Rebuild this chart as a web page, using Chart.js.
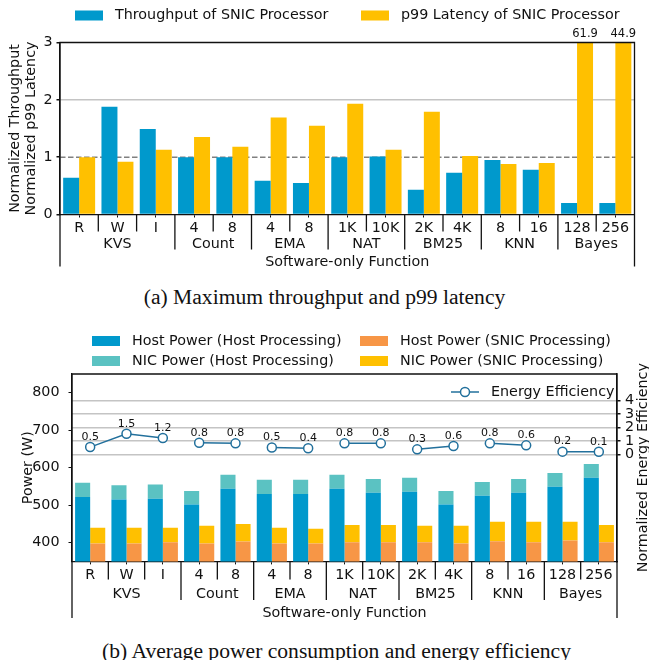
<!DOCTYPE html>
<html>
<head>
<meta charset="utf-8">
<script src="https://cdn.jsdelivr.net/npm/chart.js@4.4.0/dist/chart.umd.min.js"></script>
<style>
  body { margin: 0; background: #fff; width: 649px; height: 660px; position: relative; overflow: hidden; }
  canvas { position: absolute; left: 0; }
  #top { top: 0; }
  #bottom { top: 320px; }
  .cap { position: absolute; left: 0; width: 649px; text-align: center; color: #111;
         font-family: "Liberation Serif", "Times New Roman", serif; font-size: 21.6px; line-height: 24px; }
</style>
</head>
<body>
<canvas id="top" width="649" height="280"></canvas>
<div class="cap" style="top:285px">(a) Maximum throughput and p99 latency</div>
<canvas id="bottom" width="649" height="310"></canvas>
<div class="cap" style="top:639px;left:12px">(b) Average power consumption and energy efficiency</div>

<script>
// categories
const functions = ['KVS', 'Count', 'EMA', 'NAT', 'BM25', 'KNN', 'Bayes'];
const functionSizes = [3, 2, 2, 2, 2, 2, 2];
const variants = ['R', 'W', 'I', '4', '8', '4', '8', '1K', '10K', '2K', '4K', '8', '16', '128', '256'];

// (a) normalized to host processing
const throughputSnic = [0.64, 1.88, 1.49, 1.0, 1.0, 0.59, 0.55, 1.0, 1.01, 0.43, 0.73, 0.95, 0.78, 0.2, 0.2];
const latencySnic = [1.0, 0.92, 1.13, 1.35, 1.18, 1.69, 1.55, 1.93, 1.13, 1.79, 1.02, 0.88, 0.9, 61.9, 44.9];
const ratioTicks = [0, 1, 2, 3];

// (b) power in W
const hostPowerHost = [522, 515, 517, 502, 544, 530, 530, 544, 533, 536, 502, 525, 533, 549, 573];
const nicPowerHost = [38, 38, 38, 36, 37, 38, 38, 37, 37, 37, 36, 37, 37, 37, 37];
const hostPowerSnic = [398, 398, 401, 398, 403, 398, 398, 401, 401, 401, 398, 404, 401, 406, 401];
const nicPowerSnic = [42, 42, 39, 47, 47, 42, 39, 46, 46, 44, 47, 52, 55, 50, 46];
const energyEfficiency = [0.54, 1.54, 1.22, 0.87, 0.82, 0.51, 0.45, 0.82, 0.82, 0.37, 0.62, 0.82, 0.67, 0.2, 0.19];
const powerTicks = [400, 500, 600, 700, 800];
const efficiencyTicks = [0, 1, 2, 3, 4];

const INK = '#111';
const FONT = '14.3px "DejaVu Sans"';
Chart.defaults.font.family = '"DejaVu Sans", sans-serif';
Chart.defaults.font.size = 14.3;
Chart.defaults.color = INK;

// which function each variant belongs to
const groupOf = [];
functionSizes.forEach((n, g) => { for (let i = 0; i < n; i++) groupOf.push(g); });

const useTicks = list => s => { s.ticks = list.map(v => ({ value: v })); };

// frame + two-level category axis (variant / function / axis title)
const groupAxis = {
  id: 'groupAxis',
  afterDraw(chart, args, o) {
    const { ctx, chartArea: a, scales: { x } } = chart;
    const half = (x.getPixelForTick(1) - x.getPixelForTick(0)) / 2;
    const vline = (px, len) => {
      ctx.beginPath(); ctx.moveTo(px, a.bottom); ctx.lineTo(px, a.bottom + len); ctx.stroke();
    };
    ctx.save();
    ctx.strokeStyle = INK;
    ctx.lineWidth = 1.3;
    ctx.beginPath();
    ctx.moveTo(a.left, a.bottom + o.outer);
    ctx.lineTo(a.left, a.top);
    ctx.lineTo(a.right, a.top);
    ctx.lineTo(a.right, a.bottom + o.outer);
    ctx.stroke();
    ctx.font = FONT;
    ctx.fillStyle = INK;
    ctx.textAlign = 'center';
    ctx.textBaseline = 'middle';
    let start = 0;
    functions.forEach((name, g) => {
      const end = start + functionSizes[g];
      for (let i = start + 1; i < end; i++) vline(x.getPixelForTick(i) - half, o.sub);
      if (end < variants.length) vline(x.getPixelForTick(end) - half, o.group);
      const cx = (x.getPixelForTick(start) + x.getPixelForTick(end - 1)) / 2;
      ctx.fillText(name, cx, a.bottom + o.groupY);
      start = end;
    });
    ctx.fillText('Software-only Function', (a.left + a.right) / 2, a.bottom + o.titleY);
    ctx.restore();
  }
};

// matplotlib-like legend boxes at fixed spots
const boxLegend = {
  id: 'boxLegend',
  afterDraw(chart, args, o) {
    const ctx = chart.ctx;
    ctx.save();
    ctx.font = FONT;
    ctx.textBaseline = 'middle';
    ctx.textAlign = 'left';
    o.items.forEach(it => {
      const ds = chart.data.datasets[it.index];
      ctx.fillStyle = ds.backgroundColor;
      ctx.fillRect(it.x, it.y - 5, 28, 10);
      ctx.fillStyle = INK;
      ctx.fillText(ds.label, it.x + 40, it.y);
    });
    ctx.restore();
  }
};

// dashed reference line at 1 and value labels for clipped bars
const refLine = {
  id: 'refLine',
  beforeDatasetsDraw(chart) {
    const { ctx, chartArea: a, scales: { y } } = chart;
    const py = y.getPixelForValue(1);
    ctx.save();
    ctx.strokeStyle = '#808080';
    ctx.lineWidth = 1.5;
    ctx.setLineDash([5.5, 2.5]);
    ctx.beginPath(); ctx.moveTo(a.left, py); ctx.lineTo(a.right, py); ctx.stroke();
    ctx.restore();
  },
  afterDatasetsDraw(chart) {
    const { ctx, chartArea: a, scales: { y } } = chart;
    ctx.save();
    ctx.font = '11.5px "DejaVu Sans"';
    ctx.fillStyle = INK;
    ctx.textAlign = 'center';
    ctx.textBaseline = 'bottom';
    chart.getDatasetMeta(1).data.forEach((bar, i) => {
      if (latencySnic[i] > y.max) ctx.fillText(latencySnic[i].toFixed(1), bar.x, a.top - 3);
    });
    ctx.restore();
  }
};

new Chart(document.getElementById('top'), {
  type: 'bar',
  data: {
    labels: variants,
    datasets: [
      { label: 'Throughput of SNIC Processor', data: throughputSnic, backgroundColor: '#0099cc' },
      { label: 'p99 Latency of SNIC Processor', data: latencySnic, backgroundColor: '#ffc000' }
    ]
  },
  options: {
    responsive: false,
    animation: false,
    layout: { padding: { top: 42.5, right: 14.5, left: 0, bottom: 0 } },
    datasets: { bar: { categoryPercentage: 0.835, barPercentage: 1 } },
    plugins: {
      legend: { display: false },
      tooltip: { enabled: false },
      boxLegend: { items: [{ index: 0, x: 75, y: 15.5 }, { index: 1, x: 361, y: 15.5 }] },
      groupAxis: { sub: 17, group: 35, outer: 52, groupY: 30, titleY: 47.5 }
    },
    scales: {
      x: {
        afterFit: s => { s.height = 65.5; },
        grid: { offset: false, drawOnChartArea: false, tickLength: 3, color: INK },
        border: { color: INK, width: 1.3 },
        ticks: { padding: 2.4, autoSkip: false, maxRotation: 0 }
      },
      y: {
        min: 0,
        max: 3,
        afterFit: s => { s.width = 60; },
        afterBuildTicks: useTicks(ratioTicks),
        ticks: { padding: 4 },
        grid: {
          color: c => (c.tick && c.tick.value === 2 ? '#c4c4c4' : 'transparent'),
          lineWidth: 1.5, tickColor: INK, tickLength: 3.5
        },
        border: { color: INK, width: 1.3 },
        title: {
          display: true,
          text: ['Normalized Throughput', 'Normalized p99 Latency'],
          font: { size: 14.3, lineHeight: 1.12 },
          padding: { top: 7, bottom: 0 }
        }
      }
    }
  },
  plugins: [refLine, groupAxis, boxLegend]
});

// value labels over the efficiency line, right title, inner legend
const efficiencyDecor = {
  id: 'efficiencyDecor',
  afterDatasetsDraw(chart, args, o) {
    const { ctx, chartArea: a } = chart;
    const ds = chart.data.datasets[4];
    ctx.save();
    ctx.fillStyle = INK;
    ctx.textAlign = 'center';
    ctx.textBaseline = 'middle';
    ctx.font = '11px "DejaVu Sans"';
    chart.getDatasetMeta(4).data.forEach((pt, i) => {
      const shown = Math.floor(energyEfficiency[i] * 10 + 1e-9) / 10;
      ctx.fillText(shown.toFixed(1), pt.x, pt.y - 10);
    });
    // inner legend
    ctx.font = FONT;
    ctx.strokeStyle = ds.borderColor;
    ctx.lineWidth = ds.borderWidth;
    ctx.beginPath(); ctx.moveTo(o.x, o.y); ctx.lineTo(o.x + 28, o.y); ctx.stroke();
    ctx.fillStyle = '#fff';
    ctx.lineWidth = ds.pointBorderWidth;
    ctx.beginPath(); ctx.arc(o.x + 14, o.y, ds.pointRadius, 0, Math.PI * 2); ctx.fill(); ctx.stroke();
    ctx.fillStyle = INK;
    ctx.textAlign = 'left';
    ctx.fillText(ds.label, o.x + 40, o.y);
    // right axis title, read bottom to top
    ctx.translate(643, (a.top + a.bottom) / 2);
    ctx.rotate(-Math.PI / 2);
    ctx.textAlign = 'center';
    ctx.fillText('Normalized Energy Efficiency', 0, 0);
    ctx.restore();
  }
};

const lineColor = '#22709c';

new Chart(document.getElementById('bottom'), {
  type: 'bar',
  data: {
    labels: variants,
    datasets: [
      { label: 'Host Power (Host Processing)', data: hostPowerHost, backgroundColor: '#0099cc', stack: 'host', order: 1 },
      { label: 'NIC Power (Host Processing)', data: nicPowerHost, backgroundColor: '#5bc2c2', stack: 'host', order: 1 },
      { label: 'Host Power (SNIC Processing)', data: hostPowerSnic, backgroundColor: '#f79646', stack: 'snic', order: 1 },
      { label: 'NIC Power (SNIC Processing)', data: nicPowerSnic, backgroundColor: '#ffc000', stack: 'snic', order: 1 },
      {
        type: 'line',
        label: 'Energy Efficiency',
        data: energyEfficiency,
        yAxisID: 'y2',
        order: 0,
        borderColor: lineColor,
        borderWidth: 1.5,
        pointRadius: 4.5,
        pointBorderWidth: 1.5,
        pointBackgroundColor: '#fff',
        pointBorderColor: lineColor,
        segment: {
          borderColor: c => (groupOf[c.p0DataIndex] === groupOf[c.p1DataIndex] ? lineColor : 'transparent')
        }
      }
    ]
  },
  options: {
    responsive: false,
    animation: false,
    layout: { padding: { top: 54, right: 0, left: 0, bottom: 0 } },
    datasets: { bar: { categoryPercentage: 0.83, barPercentage: 1 } },
    plugins: {
      legend: { display: false },
      tooltip: { enabled: false },
      boxLegend: {
        items: [
          { index: 0, x: 92, y: 21 }, { index: 2, x: 360, y: 21 },
          { index: 1, x: 92, y: 41 }, { index: 3, x: 360, y: 41 }
        ]
      },
      groupAxis: { sub: 18, group: 38.5, outer: 56.5, groupY: 32.6, titleY: 51.6 },
      efficiencyDecor: { x: 451, y: 72 }
    },
    scales: {
      x: {
        stacked: true,
        afterFit: s => { s.height = 68.6; },
        grid: { offset: false, drawOnChartArea: false, tickLength: 3, color: INK },
        border: { color: INK, width: 1.3 },
        ticks: { padding: 1.9, autoSkip: false, maxRotation: 0 }
      },
      y: {
        stacked: true,
        min: 350,
        max: 850,
        afterFit: s => { s.width = 72; },
        afterBuildTicks: useTicks(powerTicks),
        ticks: { padding: 9 },
        grid: { display: true, drawOnChartArea: false, tickLength: 3.5, color: INK },
        border: { color: INK, width: 1.3 },
        title: { display: true, text: 'Power (W)', font: { size: 14.3 }, padding: { top: 19.4, bottom: 0 } }
      },
      y2: {
        position: 'right',
        min: -8,
        max: 6,
        afterFit: s => { s.width = 32; },
        afterBuildTicks: useTicks(efficiencyTicks),
        ticks: { padding: 4.5 },
        grid: { color: '#c4c4c4', lineWidth: 1.5, tickColor: INK, tickLength: 3.5 },
        border: { color: INK, width: 1.3 }
      }
    }
  },
  plugins: [groupAxis, boxLegend, efficiencyDecor]
});
</script>
</body>
</html>
